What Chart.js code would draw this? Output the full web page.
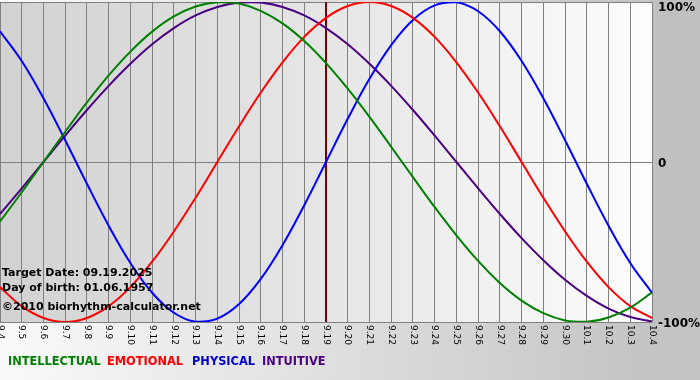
<!DOCTYPE html>
<html>
<head>
<meta charset="utf-8">
<script src="https://cdn.jsdelivr.net/npm/chart.js@4.4.1/dist/chart.umd.min.js"></script>
<style>
html,body{margin:0;padding:0;background:#c0c0c0;}
canvas{display:block;}
</style>
</head>
<body>
<canvas id="c" width="700" height="380"></canvas>
<script>
const dates = ['9.4','9.5','9.6','9.7','9.8','9.9','9.10','9.11','9.12','9.13','9.14','9.15','9.16','9.17','9.18','9.19','9.20','9.21','9.22','9.23','9.24','9.25','9.26','9.27','9.28','9.29','9.30','10.1','10.2','10.3','10.4'];
const intellectual = [-37.2,-18.9,0,18.9,37.2,54.1,69.0,81.5,91.0,97.2,99.9,99.0,94.5,86.6,75.6,61.8,45.8,28.2,9.5,-9.5,-28.2,-45.8,-61.8,-75.6,-86.6,-94.5,-99.0,-99.9,-97.2,-91.0,-81.5];
const emotional = [-78.2,-90.1,-97.5,-100,-97.5,-90.1,-78.2,-62.3,-43.4,-22.3,0,22.3,43.4,62.3,78.2,90.1,97.5,100,97.5,90.1,78.2,62.3,43.4,22.3,0,-22.3,-43.4,-62.3,-78.2,-90.1,-97.5];
const physical = [81.7,63.1,39.8,13.6,-13.6,-39.8,-63.1,-81.7,-94.2,-99.8,-97.9,-88.8,-73.1,-52.0,-27.0,0,27.0,52.0,73.1,88.8,97.9,99.8,94.2,81.7,63.1,39.8,13.6,-13.6,-39.8,-63.1,-81.7];
const intuitive = [-32.5,-16.5,0,16.5,32.5,47.6,61.4,73.6,83.7,91.6,96.9,99.7,99.7,96.9,91.6,83.7,73.6,61.4,47.6,32.5,16.5,0,-16.5,-32.5,-47.6,-61.4,-73.6,-83.7,-91.6,-96.9,-99.7];
const yTicks = [100, 0, -100];
const yTickLabels = ['100%', '0', '-100%'];
const targetDate = '9.19';
const infoLines = ['Target Date: 09.19.2025', 'Day of birth: 01.06.1957', '\u00A92010 biorhythm-calculator.net'];
const legendNames = ['INTELLECTUAL', 'EMOTIONAL', 'PHYSICAL', 'INTUITIVE'];
const colors = ['#008000', '#ff0000', '#0000ff', '#4b0082'];
const legendColors = ['#008000', '#ff0000', '#0000cc', '#4b0082'];

const bgPlugin = {
  id: 'bg',
  beforeDraw(chart) {
    const ctx = chart.ctx, a = chart.chartArea;
    ctx.save();
    let g = ctx.createLinearGradient(0, 0, 650, 0);
    g.addColorStop(0, '#fafafa');
    g.addColorStop(1, '#c4c4c4');
    ctx.fillStyle = g;
    ctx.fillRect(0, 0, chart.width, chart.height);
    ctx.fillStyle = '#c0c0c0';
    ctx.fillRect(a.right, 0, chart.width - a.right, a.bottom + 2);
    g = ctx.createLinearGradient(a.left, 0, a.right, 0);
    g.addColorStop(0, '#d2d2d2');
    g.addColorStop(0.5, '#e6e6e6');
    g.addColorStop(1, '#fdfdfd');
    ctx.fillStyle = g;
    ctx.fillRect(a.left, a.top, a.right - a.left, a.bottom - a.top);
    ctx.restore();
  },
  beforeDatasetsDraw(chart) {
    const ctx = chart.ctx, a = chart.chartArea;
    const x = Math.round(chart.scales.x.getPixelForValue(dates.indexOf(targetDate)));
    ctx.save();
    ctx.fillStyle = '#800000';
    ctx.fillRect(x - 1, a.top, 2, a.bottom - a.top);
    ctx.restore();
  },
  afterDraw(chart) {
    const ctx = chart.ctx, a = chart.chartArea;
    const xs = chart.scales.x, ys = chart.scales.y;
    ctx.save();
    ctx.fillStyle = '#000';
    ctx.font = '9px "DejaVu Sans"';
    ctx.textAlign = 'left';
    ctx.textBaseline = 'middle';
    dates.forEach((d, i) => {
      const x = xs.getPixelForValue(i);
      ctx.save();
      ctx.translate(x, a.bottom + 3);
      ctx.rotate(Math.PI / 2);
      ctx.fillText(d, 0, 0);
      ctx.restore();
    });
    ctx.font = 'bold 12px "DejaVu Sans"';
    ctx.textBaseline = 'middle';
    yTicks.forEach((v, i) => {
      const y = Math.max(ys.getPixelForValue(v) + 2, 8);
      ctx.fillText(yTickLabels[i], a.right + 6, y);
    });
    ctx.font = 'bold 11px "DejaVu Sans"';
    ctx.textBaseline = 'alphabetic';
    const infoY = [276, 291, 310];
    infoLines.forEach((t, i) => ctx.fillText(t, 2, infoY[i]));
    ctx.font = 'bold 11.4px "DejaVu Sans"';
    ctx.textBaseline = 'middle';
    const legendX = [8, 107, 192, 262];
    legendNames.forEach((n, i) => {
      ctx.fillStyle = legendColors[i];
      ctx.fillText(n, legendX[i], 362);
    });
    ctx.restore();
  }
};

new Chart(document.getElementById('c'), {
  type: 'line',
  data: {
    labels: dates,
    datasets: [
      { label: legendNames[0], data: intellectual, borderColor: colors[0] },
      { label: legendNames[1], data: emotional, borderColor: colors[1] },
      { label: legendNames[2], data: physical, borderColor: colors[2] },
      { label: legendNames[3], data: intuitive, borderColor: colors[3] }
    ].map(d => Object.assign(d, { borderWidth: 2, pointRadius: 0, tension: 0.4, fill: false }))
  },
  options: {
    responsive: false,
    animation: false,
    events: [],
    layout: { padding: { left: 0, top: 2, right: 48, bottom: 58 } },
    plugins: { legend: { display: false }, tooltip: { enabled: false } },
    scales: {
      x: {
        offset: false,
        ticks: { display: false },
        grid: { color: '#808080', lineWidth: 1, drawTicks: false },
        border: { display: false }
      },
      y: {
        min: -100, max: 100,
        afterBuildTicks(s) { s.ticks = yTicks.map(v => ({ value: v })); },
        ticks: { display: false },
        grid: { color: '#808080', lineWidth: 1, drawTicks: false },
        border: { display: false }
      }
    }
  },
  plugins: [bgPlugin]
});
</script>
</body>
</html>
